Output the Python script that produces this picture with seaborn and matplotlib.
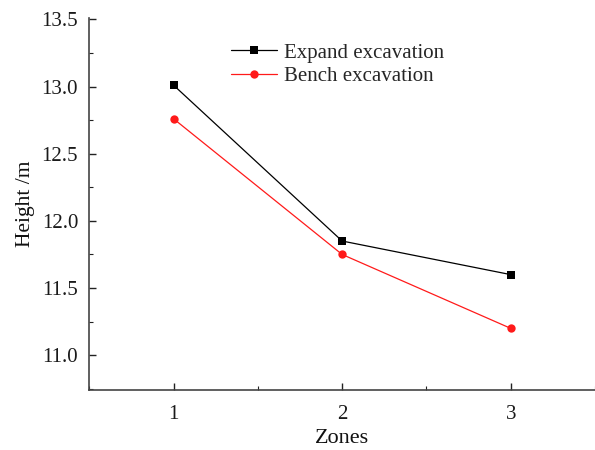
import matplotlib
matplotlib.use("Agg")
import matplotlib.pyplot as plt
import seaborn as sns
import pandas as pd
from matplotlib.ticker import MultipleLocator

zones = [1, 2, 3]
expand_height = [13.01, 11.85, 11.60]
bench_height = [12.76, 11.75, 11.20]
series_names = ["Expand excavation", "Bench excavation"]
y_ticks = [11.0, 11.5, 12.0, 12.5, 13.0, 13.5]

df = pd.DataFrame({
    "Zones": zones * 2,
    "Height": expand_height + bench_height,
    "Method": [series_names[0]] * 3 + [series_names[1]] * 3,
})

sns.set_style("ticks")
plt.rcParams["font.family"] = ["Liberation Serif", "DejaVu Serif"]

fig = plt.figure(figsize=(5.95, 4.5), dpi=100)
ax = fig.add_axes([0.15, 0.133, 0.85, 0.827])

palette = {series_names[0]: "black", series_names[1]: "#ff1a1a"}
markers = {series_names[0]: "s", series_names[1]: "o"}
sns.lineplot(data=df, x="Zones", y="Height", hue="Method", style="Method",
             palette=palette, markers=markers, dashes=False, linewidth=0.9,
             markersize=6, markeredgewidth=0, ax=ax)

ax.set_xlim(0.5, 3.5)
ax.set_ylim(10.74, 13.51)
ax.set_xticks(zones)
ax.set_xticklabels([str(z) for z in zones])
ax.set_yticks(y_ticks)
ax.set_yticklabels([f"{t:.1f}" for t in y_ticks])
ax.xaxis.set_minor_locator(MultipleLocator(0.5))
ax.yaxis.set_minor_locator(MultipleLocator(0.25))
ax.tick_params(which="both", direction="in", colors="#222222", labelcolor="#1a1a1a")
ax.tick_params(which="major", length=5, width=1, labelsize=15)
ax.tick_params(which="minor", length=3, width=0.8)
ax.tick_params(axis="y", which="major", pad=8)
ax.tick_params(axis="x", which="major", pad=11)

for side in ["top", "right"]:
    ax.spines[side].set_visible(False)
for side in ["left", "bottom"]:
    ax.spines[side].set_linewidth(1.2)
    ax.spines[side].set_color("#444444")

ax.set_xlabel("Zones", fontsize=16, labelpad=3, color="#111111")
ax.set_ylabel("Height /m", fontsize=15.5, labelpad=5, color="#111111")

handles, labels = ax.get_legend_handles_labels()
ax.legend(handles, labels, loc="upper left", bbox_to_anchor=(0.375, 0.923),
          bbox_transform=fig.transFigure, frameon=False, fontsize=15,
          borderaxespad=0, handlelength=2.2, handletextpad=0.3,
          labelspacing=0.2)

fig.savefig("out.png", dpi=100)
